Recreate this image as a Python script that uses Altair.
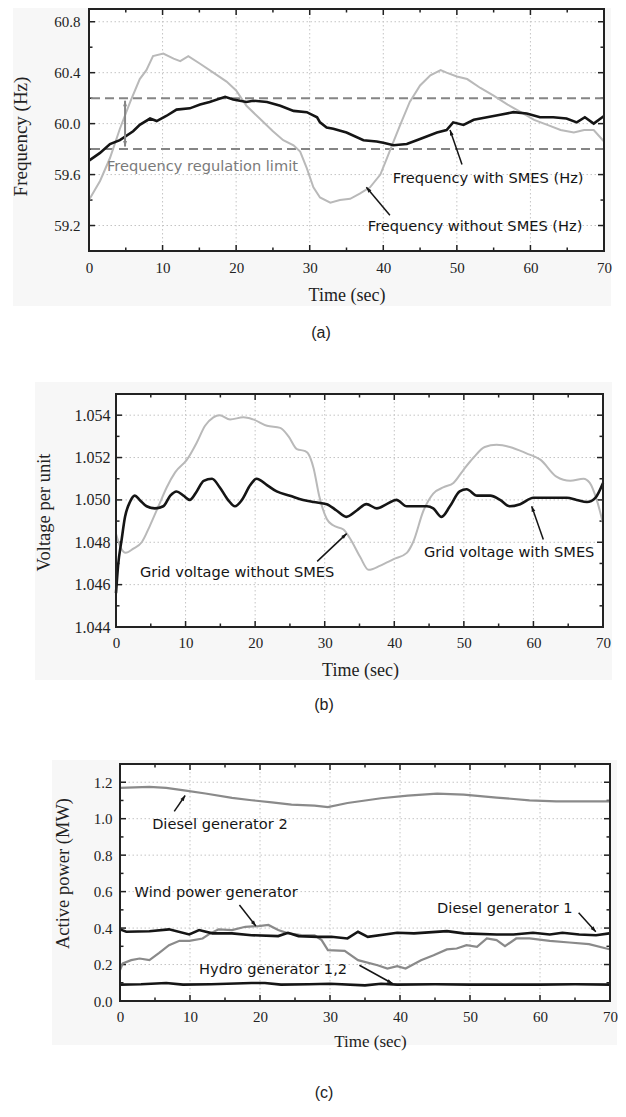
import math
import altair as alt
import pandas as pd

# ---------------- data: panel (a) frequency ----------------
freq_with_t = [0, 1.5, 2.85, 4.2, 6.0, 6.9, 8.3, 9.2, 10.5, 11.9, 13.7, 15.1, 16.4, 18.5, 19.6, 21.4,
               22.3, 24.2, 26.0, 27.8, 29.6, 31.0, 31.4, 32.3, 33.2, 35.0, 37.3, 39.1, 40.0, 41.4, 43.2,
               45.0, 47.3, 48.6, 49.5, 50.9, 52.3, 54.1, 55.9, 57.7, 59.5, 61.3, 63.1, 64.9, 66.3, 67.4,
               68.6, 70]
freq_with_v = [59.71, 59.77, 59.84, 59.87, 59.94, 59.99, 60.04, 60.02, 60.06, 60.11, 60.12, 60.15, 60.17,
               60.21, 60.19, 60.17, 60.18, 60.17, 60.14, 60.10, 60.09, 60.05, 60.01, 59.97, 59.96, 59.93,
               59.87, 59.86, 59.85, 59.83, 59.84, 59.88, 59.93, 59.95, 60.01, 59.99, 60.03, 60.05, 60.07,
               60.09, 60.08, 60.05, 60.05, 60.04, 60.01, 60.05, 60.00, 60.06]
freq_without_t = [0, 1.5, 2.85, 4.2, 5.6, 6.9, 7.8, 8.7, 10.1, 11.5, 12.4, 13.5, 15.1, 16.9, 18.7, 20.0,
                  21.4, 23.2, 25.0, 26.4, 27.8, 28.7, 29.6, 30.5, 31.4, 32.8, 34.1, 35.5, 36.8, 38.2, 39.6,
                  40.5, 41.4, 42.3, 43.6, 45.0, 46.4, 47.8, 48.6, 50.0, 51.4, 53.2, 55.0, 56.9, 58.7, 60.5,
                  62.3, 64.1, 65.9, 67.3, 68.6, 70]
freq_without_v = [59.40, 59.55, 59.73, 59.96, 60.17, 60.35, 60.42, 60.53, 60.55, 60.51, 60.49, 60.53, 60.47,
                  60.40, 60.33, 60.26, 60.14, 60.04, 59.94, 59.87, 59.83, 59.78, 59.65, 59.50, 59.42, 59.38,
                  59.40, 59.41, 59.45, 59.50, 59.60, 59.73, 59.86, 59.99, 60.17, 60.30, 60.38, 60.42, 60.40,
                  60.37, 60.35, 60.28, 60.22, 60.15, 60.09, 60.03, 59.99, 59.95, 59.93, 59.95, 59.95, 59.86]
freq_limits = [60.2, 59.8]

# ---------------- data: panel (b) voltage ----------------
volt_with_t = [0, 0.3, 0.8, 1.3, 2.0, 2.7, 3.4, 4.4, 5.6, 6.8, 7.8, 8.7, 9.7, 10.6, 11.6, 12.6, 13.8, 14.9,
               16.1, 17.1, 18.1, 19.3, 20.2, 21.7, 23.1, 25.0, 26.9, 28.4, 30.3, 31.7, 33.1, 34.6, 36.0,
               37.5, 38.9, 40.3, 41.8, 43.2, 44.7, 45.6, 46.8, 48.0, 49.4, 50.4, 51.9, 53.8, 55.2, 56.6,
               58.1, 60.0, 62.4, 64.8, 66.2, 67.7, 68.9, 70]
volt_with_v = [1.0456, 1.0469, 1.0481, 1.0492, 1.0499, 1.0502, 1.0500, 1.0497, 1.0496, 1.0497, 1.0502,
               1.0504, 1.0502, 1.0500, 1.0504, 1.0509, 1.0510, 1.0506, 1.0500, 1.0497, 1.0500, 1.0507,
               1.0510, 1.0507, 1.0504, 1.0502, 1.0500, 1.0499, 1.0498, 1.0495, 1.0492, 1.0495, 1.0498,
               1.0496, 1.0498, 1.0500, 1.0497, 1.0497, 1.0497, 1.0496, 1.0492, 1.0497, 1.0504, 1.0505,
               1.0502, 1.0502, 1.0500, 1.0497, 1.0498, 1.0501, 1.0501, 1.0501, 1.0500, 1.0499, 1.0501,
               1.0508]
volt_without_t = [0, 0.6, 1.4, 2.5, 3.7, 4.9, 6.1, 7.3, 8.5, 10.2, 11.6, 12.8, 14.0, 14.9, 16.4, 18.3, 19.7,
                  21.7, 23.6, 24.8, 26.0, 27.2, 27.6, 28.4, 29.2, 30.3, 31.2, 32.7, 33.6, 35.1, 36.3, 38.0,
                  39.9, 41.8, 42.7, 44.2, 45.6, 47.1, 48.5, 49.9, 51.4, 53.0, 54.7, 56.6, 59.0, 61.0, 63.3,
                  65.3, 67.2, 68.1, 69.1, 70]
volt_without_v = [1.0484, 1.0478, 1.0475, 1.0477, 1.0480, 1.0488, 1.0497, 1.0506, 1.0513, 1.0519, 1.0527,
                  1.0535, 1.0539, 1.0540, 1.0538, 1.0539, 1.0538, 1.0535, 1.0534, 1.0530, 1.0524, 1.0523,
                  1.0522, 1.0515, 1.0502, 1.0491, 1.0488, 1.0486, 1.0482, 1.0473, 1.0467, 1.0469, 1.0472,
                  1.0475, 1.0480, 1.0495, 1.0503, 1.0506, 1.0508, 1.0514, 1.0520, 1.0525, 1.0526, 1.0525,
                  1.0522, 1.0519, 1.0511, 1.0509, 1.0510, 1.0508, 1.0500, 1.0489]

# ---------------- data: panel (c) active power ----------------
diesel2_t = [0, 4.2, 6.6, 9.4, 12.2, 16.0, 18.8, 21.7, 24.5, 27.8, 29.7, 32.5, 37.3, 41.1, 45.3, 49.1, 53.8,
             58.5, 62.3, 70]
diesel2_v = [1.169, 1.174, 1.169, 1.154, 1.138, 1.114, 1.101, 1.090, 1.077, 1.072, 1.064, 1.086, 1.112,
             1.127, 1.138, 1.132, 1.116, 1.101, 1.095, 1.095]
diesel1_t = [0, 0.9, 4.2, 7.0, 9.9, 11.3, 13.2, 16.0, 18.8, 22.6, 24.0, 25.5, 28.3, 30.2, 32.5, 34.0, 35.4,
             39.6, 42.0, 46.7, 49.1, 53.8, 56.2, 59.0, 61.4, 63.2, 65.6, 68.0, 69.9, 70]
diesel1_v = [0.393, 0.380, 0.383, 0.393, 0.365, 0.389, 0.371, 0.371, 0.361, 0.356, 0.374, 0.356, 0.352,
             0.352, 0.343, 0.380, 0.352, 0.374, 0.371, 0.383, 0.371, 0.365, 0.365, 0.374, 0.365, 0.374,
             0.365, 0.361, 0.371, 0.371]
wind_t = [0, 0.4, 1.6, 2.8, 4.2, 5.6, 7.0, 8.5, 9.9, 11.8, 12.9, 14.1, 16.0, 17.9, 19.8, 21.2, 22.6, 24.0,
          25.9, 27.8, 28.8, 29.7, 32.1, 34.0, 36.8, 38.2, 39.6, 40.8, 43.0, 44.8, 46.7, 48.1, 49.5, 51.0,
          52.4, 53.8, 55.0, 56.6, 58.5, 61.4, 64.2, 67.0, 69.9, 70]
wind_v = [0.169, 0.206, 0.224, 0.233, 0.224, 0.264, 0.306, 0.330, 0.330, 0.343, 0.371, 0.393, 0.389, 0.407,
          0.411, 0.417, 0.389, 0.371, 0.361, 0.360, 0.334, 0.279, 0.275, 0.224, 0.196, 0.178, 0.191, 0.178,
          0.224, 0.251, 0.283, 0.288, 0.306, 0.297, 0.343, 0.334, 0.301, 0.343, 0.343, 0.330, 0.321, 0.312,
          0.284, 0.284]
hydro_t = [0, 3, 6.6, 9, 13, 18.8, 20.7, 23, 27, 30, 35, 37.3, 39.6, 45, 50, 55, 60, 65, 70]
hydro_v = [0.090, 0.092, 0.099, 0.090, 0.092, 0.099, 0.099, 0.090, 0.092, 0.095, 0.086, 0.095, 0.090,
           0.092, 0.090, 0.090, 0.090, 0.092, 0.090]

# ---------------- tick values ----------------
x_major = [0, 10, 20, 30, 40, 50, 60, 70]
x_minor = [5, 15, 25, 35, 45, 55, 65]
a_y_major = [59.2, 59.6, 60.0, 60.4, 60.8]
a_y_minor = [59.4, 59.8, 60.2, 60.6]
b_y_major = [1.044, 1.046, 1.048, 1.050, 1.052, 1.054]
b_y_minor = [1.045, 1.047, 1.049, 1.051, 1.053]
c_y_major = [0.0, 0.2, 0.4, 0.6, 0.8, 1.0, 1.2]
c_y_minor = [0.1, 0.3, 0.5, 0.7, 0.9, 1.1]

BLACK = "#151515"
LIGHT = "#b9b9b9"
MID = "#8a8a8a"
FRAME = "#222222"
SERIF = "Liberation Serif"
SANS = "DejaVu Sans"
ARROW = "M0,0L-0.6,1.7L0.6,1.7Z"
ONE = pd.DataFrame({"a": [0]})


def panel(cfg):
    W, H, ydom = cfg["W"], cfg["H"], cfg["ydom"]
    xs = alt.Scale(domain=[0, 70], nice=False, zero=False)
    ys = alt.Scale(domain=ydom, nice=False, zero=False)
    xaxis = alt.Axis(values=x_major, format="d", ticks=False, tickSize=0, domain=False, grid=False,
                     zindex=2,
                     labelFont=SERIF, labelFontSize=15, labelColor=FRAME, labelPadding=cfg["xlabpad"],
                     labelFlush=False, title="Time (sec)", titleFont=SERIF,
                     titleFontSize=cfg["xtitlesize"], titleFontWeight="normal", titleColor=FRAME,
                     titleX=cfg["xtitle"][0], titleY=cfg["xtitle"][1], titleAlign="center",
                     titleBaseline="middle", titleAngle=0)
    yaxis = alt.Axis(values=cfg["ymajor"], format=cfg["yfmt"], ticks=False, tickSize=0, domain=False,
                     grid=False, zindex=2, labelFont=SERIF, labelFontSize=cfg["ylabsize"], labelColor=FRAME,
                     labelPadding=cfg["ylabpad"], labelFlush=False, title=cfg["ytitle"], titleFont=SERIF,
                     titleFontSize=cfg["ytitlesize"], titleFontWeight="normal", titleColor=FRAME,
                     titleX=cfg["ytitlexy"][0], titleY=cfg["ytitlexy"][1], titleAlign="center",
                     titleBaseline="middle", titleAngle=270)

    def X(f="t"):
        return alt.X(f"{f}:Q", scale=xs, axis=xaxis)

    def Y(f="v"):
        return alt.Y(f"{f}:Q", scale=ys, axis=yaxis)

    layers = []
    sx0, sx1, sy0, sy1 = cfg["slot"]
    layers.append(alt.Chart(ONE).mark_rect(fill="white").encode(
        x=alt.value(sx0), x2=alt.value(sx1), y=alt.value(sy0), y2=alt.value(sy1)))
    bx0, bx1, by0, by1 = cfg["bg"]
    layers.append(alt.Chart(ONE).mark_rect(fill="#f7f7f7").encode(
        x=alt.value(bx0), x2=alt.value(bx1), y=alt.value(by0), y2=alt.value(by1)))
    layers.append(alt.Chart(ONE).mark_rect(fill="white").encode(
        x=alt.value(0), x2=alt.value(W), y=alt.value(0), y2=alt.value(H)))

    # dotted grid
    gx = pd.DataFrame({"t": x_major[1:-1]})
    gy = pd.DataFrame({"v": cfg["ymajor"]})
    layers.append(alt.Chart(gx).mark_rule(color="#c4c4c4", strokeWidth=1, strokeDash=[1.5, 2.5]).encode(x=X()))
    layers.append(alt.Chart(gy).mark_rule(color="#c4c4c4", strokeWidth=1, strokeDash=[1.5, 2.5]).encode(y=Y()))

    # ticks (inside, on all sides)
    for vals, ln in ((x_major, 6), (x_minor, 3.5)):
        d = pd.DataFrame({"t": vals})
        layers.append(alt.Chart(d).mark_rule(color=FRAME, strokeWidth=1.5).encode(
            x=X(), y=alt.value(H), y2=alt.value(H - ln)))
        layers.append(alt.Chart(d).mark_rule(color=FRAME, strokeWidth=1.5).encode(
            x=X(), y=alt.value(0), y2=alt.value(ln)))
    for vals, ln in ((cfg["ymajor"], 6), (cfg["yminor"], 3.5)):
        d = pd.DataFrame({"v": vals})
        layers.append(alt.Chart(d).mark_rule(color=FRAME, strokeWidth=1.5).encode(
            y=Y(), x=alt.value(0), x2=alt.value(ln)))
        layers.append(alt.Chart(d).mark_rule(color=FRAME, strokeWidth=1.5).encode(
            y=Y(), x=alt.value(W), x2=alt.value(W - ln)))

    for extra in cfg.get("hlines", []):
        vals, color, dash, width = extra
        layers.append(alt.Chart(pd.DataFrame({"v": vals})).mark_rule(
            color=color, strokeDash=dash, strokeWidth=width).encode(y=Y()))

    for t, v, color, width, interp in cfg["series"]:
        df = pd.DataFrame({"t": t, "v": v})
        layers.append(alt.Chart(df).mark_line(color=color, strokeWidth=width, interpolate=interp).encode(
            x=X(), y=Y()))

    for t1, v1, t2, v2, color, width, heads in cfg["arrows"]:
        df = pd.DataFrame({"t": [t1], "v": [v1], "t2": [t2], "v2": [v2]})
        layers.append(alt.Chart(df).mark_rule(color=color, strokeWidth=width).encode(
            x=X(), y=Y(), x2="t2:Q", y2="v2:Q"))
        dxp = (t2 - t1) / 70.0 * W
        dyp = -(v2 - v1) / (ydom[1] - ydom[0]) * H
        ends = [(t2, v2, dxp, dyp)]
        if heads == 2:
            ends.append((t1, v1, -dxp, -dyp))
        for tt, vv, ddx, ddy in ends:
            ang = math.degrees(math.atan2(ddx, -ddy)) % 360
            layers.append(alt.Chart(pd.DataFrame({"t": [tt], "v": [vv]})).mark_point(
                shape=ARROW, filled=True, color=color, opacity=1, size=42, angle=ang,
                strokeWidth=0).encode(x=X(), y=Y()))

    for txt, t, v, color in cfg["notes"]:
        df = pd.DataFrame({"t": [t], "v": [v], "label": [txt]})
        layers.append(alt.Chart(df).mark_text(align="left", baseline="middle", font=SANS,
                                              fontSize=cfg["notesize"], color=color).encode(
            x=X(), y=Y(), text="label:N"))

    # frame
    layers.append(alt.Chart(ONE).mark_rect(fill=None, stroke=FRAME, strokeWidth=2).encode(
        x=alt.value(0), x2=alt.value(W), y=alt.value(0), y2=alt.value(H)))

    # caption
    layers.append(alt.Chart(ONE).mark_text(font="Liberation Sans", fontSize=16, color="#222",
                                           baseline="middle", align="center").encode(
        x=alt.value(cfg["caption_xy"][0]), y=alt.value(cfg["caption_xy"][1]),
        text=alt.value(cfg["caption"])))

    body = alt.layer(*layers).properties(width=W, height=H)
    spacer = alt.Chart(ONE).mark_rect(fill="white", opacity=0).encode(
        x=alt.value(0), x2=alt.value(cfg["spacer"]), y=alt.value(0), y2=alt.value(1)
    ).properties(width=cfg["spacer"], height=1)
    return alt.hconcat(spacer, body, spacing=0)


# plot-area left edges on the page: (a) 89, (b) 116, (c) 120
panel_a = panel(dict(
    W=515, H=242, ydom=[59.0, 60.9], ymajor=a_y_major, yminor=a_y_minor, yfmt=".1f",
    ylabsize=15, ylabpad=9, xlabpad=9, ytitle="Frequency (Hz)", ytitlesize=19, ytitlexy=(-68.5, 127),
    xtitle=(257.5, 44), xtitlesize=18, slot=(-80, 522, -1, 351), bg=(-76, 522, -1, 297), spacer=1,
    series=[(freq_without_t, freq_without_v, LIGHT, 2, "linear"),
            (freq_with_t, freq_with_v, BLACK, 2.6, "linear")],
    hlines=[(freq_limits, "#858585", [9, 5], 2)],
    arrows=[(4.9, 59.82, 4.9, 60.18, "#858585", 2, 2),
            (50.7, 59.68, 49.07, 59.95, BLACK, 1.5, 1),
            (40.9, 59.28, 37.7, 59.50, BLACK, 1.5, 1)],
    notes=[("Frequency regulation limit", 2.45, 59.66, "#7a7a7a"),
           ("Frequency with SMES (Hz)", 41.3, 59.567, BLACK),
           ("Frequency without SMES (Hz)", 37.9, 59.19, BLACK)],
    notesize=14.6, caption="(a)", caption_xy=(232, 324)))

panel_b = panel(dict(
    W=487, H=233, ydom=[1.044, 1.055], ymajor=b_y_major, yminor=b_y_minor, yfmt=".3f",
    ylabsize=16, ylabpad=6, xlabpad=8, ytitle="Voltage per unit", ytitlesize=18.5, ytitlexy=(-73, 118),
    xtitle=(244, 43.7), xtitlesize=18, slot=(-85, 496, -34, 346), bg=(-81, 496, -12, 286), spacer=23,
    series=[(volt_without_t, volt_without_v, LIGHT, 2, "monotone"),
            (volt_with_t, volt_with_v, BLACK, 2.6, "monotone")],
    arrows=[(28.92, 1.04710, 33.15, 1.04841, BLACK, 1.5, 1),
            (61.42, 1.04813, 59.75, 1.04970, BLACK, 1.5, 1)],
    notes=[("Grid voltage without SMES", 3.45, 1.04656, BLACK),
           ("Grid voltage with SMES", 44.27, 1.04747, BLACK)],
    notesize=14.6, caption="(b)", caption_xy=(208, 311)))

panel_c = panel(dict(
    W=490, H=237, ydom=[0.0, 1.3], ymajor=c_y_major, yminor=c_y_minor, yfmt=".1f",
    ylabsize=15, ylabpad=8, xlabpad=8, ytitle="Active power (MW)", ytitlesize=18.5, ytitlexy=(-57.5, 109),
    xtitle=(250, 40.7), xtitlesize=17, slot=(-85, 497, -24, 340), bg=(-68, 497, -4, 281), spacer=27,
    series=[(diesel2_t, diesel2_v, MID, 2.2, "linear"),
            (wind_t, wind_v, MID, 2.2, "linear"),
            (diesel1_t, diesel1_v, BLACK, 2.6, "linear"),
            (hydro_t, hydro_v, BLACK, 2.6, "linear")],
    arrows=[(7.75, 1.040, 9.31, 1.127, BLACK, 1.5, 1),
            (17.06, 0.527, 19.41, 0.411, BLACK, 1.5, 1),
            (34.2, 0.196, 38.93, 0.096, BLACK, 1.5, 1),
            (65.52, 0.484, 67.97, 0.380, BLACK, 1.5, 1)],
    notes=[("Diesel generator 2", 4.59, 0.967, BLACK),
           ("Wind power generator", 2.08, 0.594, BLACK),
           ("Hydro generator 1,2", 11.29, 0.169, BLACK),
           ("Diesel generator 1", 45.3, 0.503, BLACK)],
    notesize=14.6, caption="(c)", caption_xy=(204, 329)))

chart = alt.vconcat(panel_a, panel_b, panel_c, spacing=0).properties(
    padding=0, background="white"
).configure_view(stroke=None)

chart.save("out.html", embed_options={"renderer": "svg", "actions": False})
